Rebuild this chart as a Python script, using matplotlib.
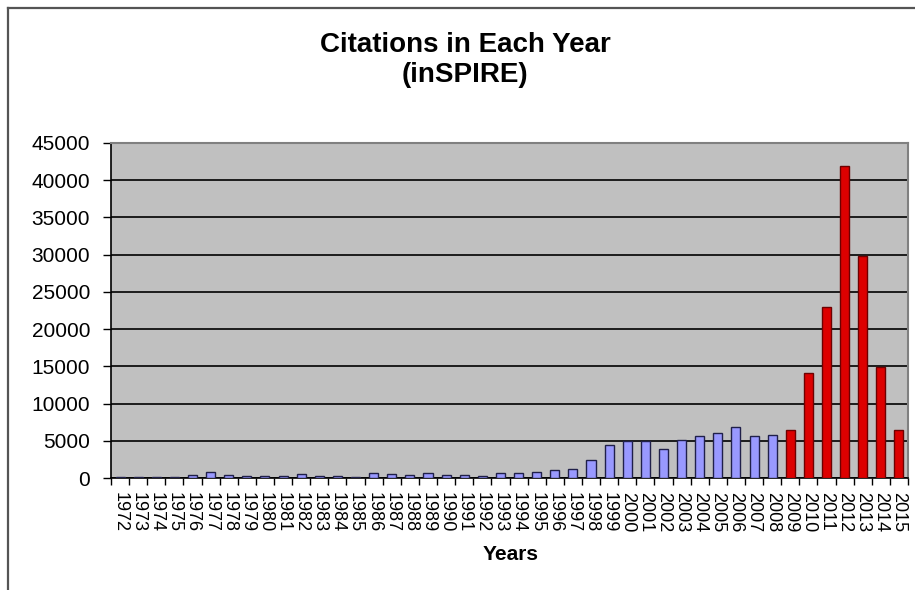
import numpy as np
import matplotlib
matplotlib.use("Agg")
import matplotlib.pyplot as plt
from matplotlib.lines import Line2D
from matplotlib.ticker import MultipleLocator

plt.rcParams['font.family'] = ['Liberation Sans', 'DejaVu Sans']

# Citations per year from inSPIRE
years = list(range(1972, 2016))
citations = [
    200, 200, 200, 200, 450, 850, 450, 310, 310, 310,      # 1972-1981
    500, 310, 310, 150, 670, 500, 450, 670, 450, 450,      # 1982-1991
    310, 670, 670, 850, 1020, 1210, 2360, 4470, 4910, 4910,  # 1992-2001
    3890, 5140, 5640, 6000, 6800, 5640, 5770, 6500, 14150, 23000,  # 2002-2011
    41900, 29800, 14900, 6500,                             # 2012-2015
]
highlight_from = 2009

W, H = 915, 590
fig = plt.figure(figsize=(W / 100, H / 100), dpi=100)
fig.patch.set_facecolor('white')

# plot area in pixel coordinates
left, right, top, bottom = 111, 908, 143, 478
ax = fig.add_axes([left / W, 1 - bottom / H, (right - left) / W, (bottom - top) / H])
ax.set_facecolor('#c0c0c0')

x = np.arange(len(years))
fill = ['#dd0000' if y >= highlight_from else '#9999ff' for y in years]
edge = ['#6e0000' if y >= highlight_from else '#20204a' for y in years]
ax.bar(x, citations, width=0.5, color=fill, edgecolor=edge, linewidth=1.0, zorder=3)

ax.set_xlim(-0.5, len(years) - 0.5)
ax.set_ylim(0, 45000)
ax.yaxis.set_major_locator(MultipleLocator(5000))
ax.grid(axis='y', color='black', linewidth=1.2, zorder=1)
ax.set_axisbelow(True)

ax.set_xticks(x)
ax.set_xticklabels([str(y) for y in years], rotation=270, fontsize=13)
ax.set_xticks(np.arange(-0.5, len(years)), minor=True)
ax.tick_params(axis='x', which='major', length=0, pad=10)
ax.tick_params(axis='x', which='minor', length=5, width=1.0, color='black', direction='out')
ax.tick_params(axis='y', which='major', length=6, width=1.0, color='black',
               direction='out', labelsize=15, pad=9)

for side in ('top', 'right'):
    ax.spines[side].set_color('#808080')
    ax.spines[side].set_linewidth(1.5)
for side in ('left', 'bottom'):
    ax.spines[side].set_color('black')
    ax.spines[side].set_linewidth(1.2)

# titles
fig.text(465 / W, 1 - 45 / H, 'Citations in Each Year', ha='center', va='center',
         fontsize=20, fontweight='bold')
fig.text(465 / W, 1 - 75 / H, '(inSPIRE)', ha='center', va='center',
         fontsize=20, fontweight='bold')
fig.text(511 / W, 1 - 555 / H, 'Years', ha='center', va='center',
         fontsize=15, fontweight='bold')

# chart frame
fig.add_artist(Line2D([8 / W, 8 / W], [0, 1 - 8 / H], transform=fig.transFigure,
                      color='#555555', linewidth=1.6))
fig.add_artist(Line2D([8 / W, 1], [1 - 8 / H, 1 - 8 / H], transform=fig.transFigure,
                      color='#555555', linewidth=1.6))

fig.savefig('out.png', dpi=100)
